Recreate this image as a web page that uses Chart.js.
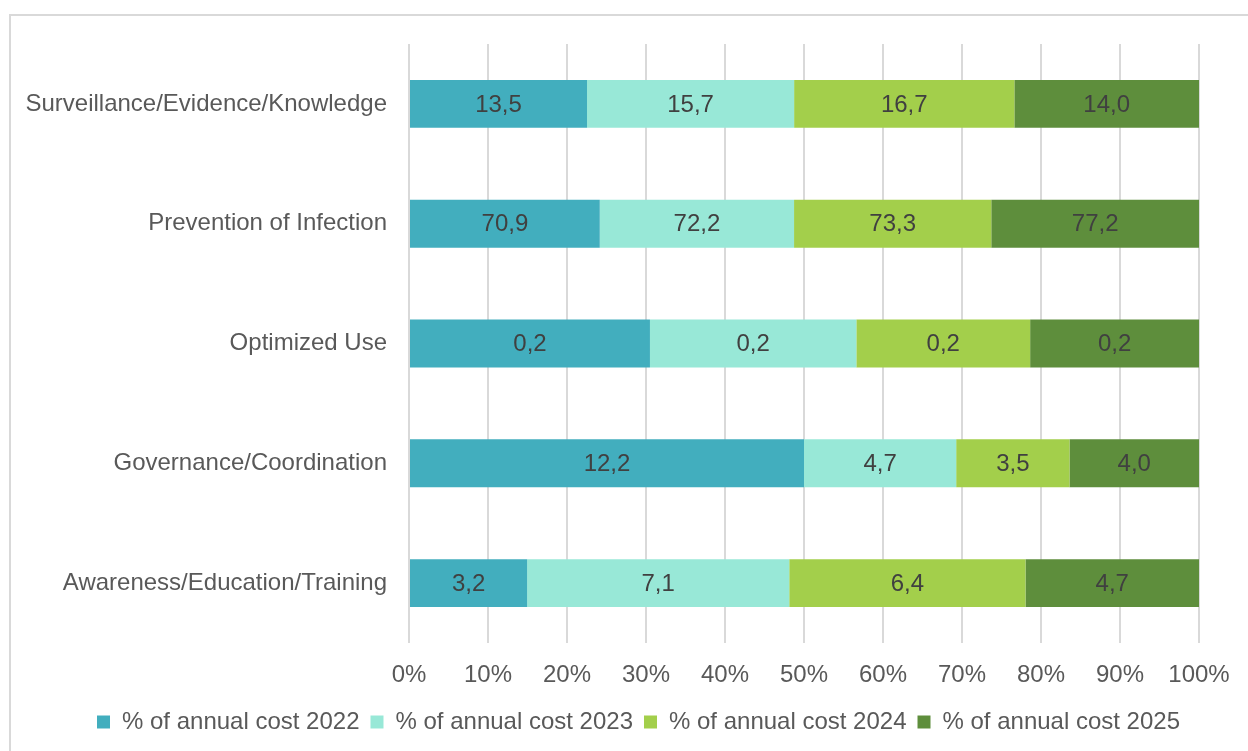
<!DOCTYPE html>
<html>
<head>
<meta charset="utf-8">
<script src="https://cdn.jsdelivr.net/npm/chart.js@4/dist/chart.umd.min.js"></script>
<style>
  body { margin: 0; background: #fff; overflow: hidden; }
  #frame { position: absolute; left: 9px; top: 14px; width: 1300px; height: 800px; border: 2px solid #d9d9d9; }
  #myChart { position: absolute; left: 0; top: 0; }
</style>
</head>
<body>
<div id="frame"></div>
<canvas id="myChart" width="1248" height="751"></canvas>
<script>
const categories = [
  "Surveillance/Evidence/Knowledge",
  "Prevention of Infection",
  "Optimized Use",
  "Governance/Coordination",
  "Awareness/Education/Training"
];
const seriesNames = [
  "% of annual cost 2022",
  "% of annual cost 2023",
  "% of annual cost 2024",
  "% of annual cost 2025"
];
const cost2022 = [13.5, 70.9, 0.244, 12.2, 3.2];
const cost2023 = [15.7, 72.2, 0.209, 4.7, 7.1];
const cost2024 = [16.7, 73.3, 0.176, 3.5, 6.4];
const cost2025 = [14.0, 77.2, 0.171, 4.0, 4.7];
const colors = ["#42aebe", "#98e8d7", "#a3cf4b", "#5e8e3c"];
const xTicks = [0, 10, 20, 30, 40, 50, 60, 70, 80, 90, 100];

const allSeries = [cost2022, cost2023, cost2024, cost2025];
const totals = categories.map((c, i) => allSeries.reduce((s, arr) => s + arr[i], 0));

const fontFam = "'Liberation Sans', Arial, sans-serif";

const valueLabels = {
  id: "valueLabels",
  afterDatasetsDraw(chart) {
    const ctx = chart.ctx;
    ctx.save();
    ctx.font = "24px " + fontFam;
    ctx.fillStyle = "#404040";
    ctx.textAlign = "center";
    ctx.textBaseline = "middle";
    chart.data.datasets.forEach((ds, di) => {
      const meta = chart.getDatasetMeta(di);
      meta.data.forEach((bar, i) => {
        const p = bar.getCenterPoint();
        ctx.fillText(ds.raw[i].toFixed(1).replace(".", ","), p.x, p.y + 1);
      });
    });
    ctx.restore();
  }
};

// legend sits a bit right of the canvas centre in the original
const legendShift = {
  id: "legendShift",
  afterLayout(chart) {
    chart.legend.left += 39;
    chart.legend.right += 39;
  }
};

const chart = new Chart(document.getElementById("myChart").getContext("2d"), {
  type: "bar",
  data: {
    labels: categories,
    datasets: allSeries.map((arr, k) => ({
      label: seriesNames[k],
      raw: arr,
      data: arr.map((v, i) => v / totals[i] * 100),
      backgroundColor: colors[k],
      barPercentage: 0.4,
      categoryPercentage: 1
    }))
  },
  options: {
    indexAxis: "y",
    responsive: false,
    animation: false,
    layout: { padding: { left: 0, right: 49, top: 44, bottom: 7 } },
    scales: {
      x: {
        stacked: true,
        min: 0,
        max: 100,
        afterBuildTicks: (s) => { s.ticks = xTicks.map(v => ({ value: v })); },
        afterFit: (s) => { s.height = 56; },
        grid: { color: "#d9d9d9", lineWidth: 2, drawTicks: false },
        border: { display: false },
        ticks: {
          padding: 18,
          color: "#595959",
          font: { family: fontFam, size: 24 },
          callback: (v) => v + "%"
        }
      },
      y: {
        stacked: true,
        afterFit: (s) => { s.width = 409; },
        grid: { display: false },
        border: { display: false },
        ticks: {
          padding: 14,
          color: "#595959",
          font: { family: fontFam, size: 24 }
        }
      }
    },
    plugins: {
      tooltip: { enabled: false },
      legend: {
        position: "bottom",
        labels: {
          boxWidth: 13,
          boxHeight: 13,
          padding: 11,
          color: "#595959",
          font: { family: fontFam, size: 24 }
        }
      }
    }
  },
  plugins: [valueLabels, legendShift]
});
</script>
</body>
</html>
